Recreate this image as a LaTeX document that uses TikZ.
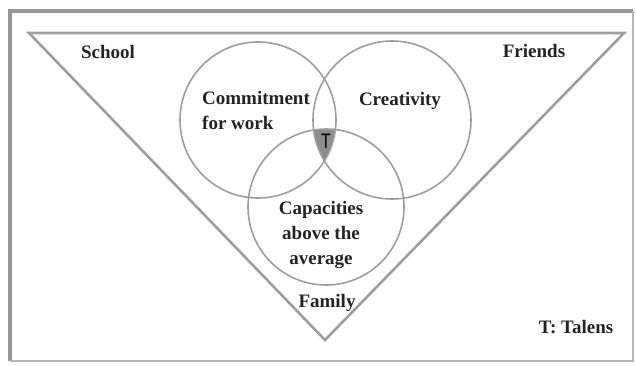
\documentclass[tikz,border=0pt]{standalone}
\usepackage{fontspec}
\setmainfont{Liberation Serif}
\setsansfont{Liberation Sans}
\definecolor{linegray}{RGB}{158,158,158}
\definecolor{framegray}{RGB}{150,150,150}
\definecolor{talgray}{RGB}{140,140,140}
\definecolor{txt}{RGB}{35,35,35}
\begin{document}
\begin{tikzpicture}[x=1pt,y=-1pt,
  ring/.style={circle,draw=linegray,line width=1.6pt,minimum size=156pt,inner sep=0pt},
  word/.style={text=txt,font=\fontsize{19}{25}\selectfont\bfseries,inner sep=0pt}]

  \useasboundingbox (0,0) rectangle (636,365);

  % frame
  \draw[framegray,line width=4pt] (633,11) -- (9.5,11) -- (9.5,361);
  \draw[framegray!70,line width=2pt] (9.5,361) -- (633,361) -- (633,11);

  % triangle
  \coordinate (tl) at (29,33);
  \coordinate (tr) at (624,33);
  \coordinate (apex) at (325,340);
  \draw[linegray,line width=2.6pt,line join=miter] (tl) -- (tr) -- (apex) -- cycle;

  % the talent region
  \begin{scope}
    \clip (258,120) circle (78);
    \clip (392,120) circle (79);
    \fill[talgray] (326,207) circle (78);
  \end{scope}

  \node[ring] (work) at (258,120){};
  \node[ring,minimum size=158pt] (creat) at (392,120){};
  \node[ring] (capac) at (326,207){};

  \node[word] (school) at (108,52){School};
  \node[word] (friends) at (534,51){Friends};
  \node[word,anchor=west,align=left] (worklbl) at (202,110){Commitment\\for work};
  \node[word] (creatlbl) at (400,101){Creativity};
  \node[word,align=center] (capaclbl) at (321,235){Capacities\\above the\\average};
  \node[word] (family) at (327,303){Family};
  \node[word] (legend) at (576,327){T: Talens};
  \node[inner sep=0pt,font=\fontsize{21}{21}\sffamily,xscale=0.75,transform shape] (tal) at (326,141){T};
\end{tikzpicture}
\end{document}
